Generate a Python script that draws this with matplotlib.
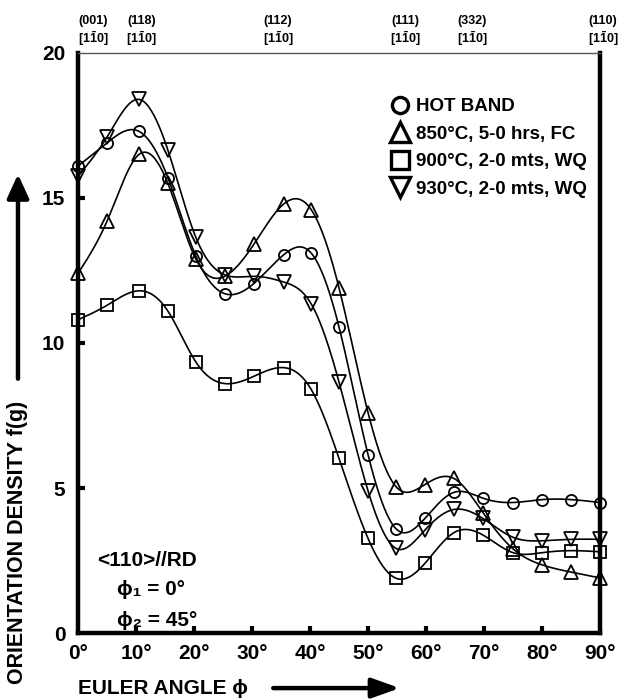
import numpy as np
import matplotlib
matplotlib.use("Agg")
import matplotlib.pyplot as plt
from matplotlib.lines import Line2D

plt.rcParams["font.family"] = ["Liberation Sans", "DejaVu Sans"]
plt.rcParams["font.weight"] = "bold"
plt.rcParams["mathtext.fontset"] = "custom"
plt.rcParams["mathtext.rm"] = "Liberation Sans"
plt.rcParams["mathtext.bf"] = "Liberation Sans:bold"

# Euler angle phi (deg) of the measured points
angle = [0, 5, 10.5, 15.5, 20.3, 25.3, 30.3, 35.5, 40.2, 45, 50, 54.8, 59.8, 64.8, 69.8, 75, 80, 85, 90]

hot_band = [16.1, 16.9, 17.3, 15.7, 13.0, 11.7, 12.05, 13.05, 13.1, 10.55, 6.15, 3.6, 3.95, 4.85, 4.65, 4.5, 4.6, 4.6, 4.5]
fc_850 = [12.4, 14.2, 16.5, 15.5, 12.9, 12.3, 13.4, 14.8, 14.6, 11.9, 7.6, 5.05, 5.12, 5.33, 4.15, 2.9, 2.35, 2.1, 1.9]
wq_900 = [10.8, 11.3, 11.8, 11.1, 9.35, 8.6, 8.85, 9.15, 8.4, 6.02, 3.26, 1.89, 2.4, 3.46, 3.38, 2.77, 2.77, 2.84, 2.8]
wq_930 = [15.75, 17.1, 18.4, 16.65, 13.65, 12.35, 12.3, 12.1, 11.35, 8.65, 4.9, 2.92, 3.55, 4.26, 3.95, 3.3, 3.18, 3.23, 3.23]

series = [
    ("HOT BAND", hot_band, "o", 8),
    ("850°C, 5-0 hrs, FC", fc_850, "^", 10),
    ("900°C, 2-0 mts, WQ", wq_900, "s", 9),
    ("930°C, 2-0 mts, WQ", wq_930, "v", 10),
]

x_ticks = [0, 10, 20, 30, 40, 50, 60, 70, 80, 90]
y_ticks = [0, 5, 10, 15, 20]

top_labels = ["(001)", "(118)", "(112)", "(111)", "(332)", "(110)"]
top_pos = [2.6, 10.9, 34.5, 56.4, 68.0, 90.5]


def spline(x, y, n=400):
    # natural cubic spline through the points, only used to draw the smooth line
    x = np.asarray(x, float)
    y = np.asarray(y, float)
    h = np.diff(x)
    m = len(x)
    A = np.zeros((m, m))
    b = np.zeros(m)
    A[0, 0] = A[-1, -1] = 1
    for i in range(1, m - 1):
        A[i, i - 1] = h[i - 1]
        A[i, i] = 2 * (h[i - 1] + h[i])
        A[i, i + 1] = h[i]
        b[i] = 6 * ((y[i + 1] - y[i]) / h[i] - (y[i] - y[i - 1]) / h[i - 1])
    M = np.linalg.solve(A, b)
    xs = np.linspace(x[0], x[-1], n)
    k = np.clip(np.searchsorted(x, xs) - 1, 0, m - 2)
    t0 = x[k + 1] - xs
    t1 = xs - x[k]
    hk = h[k]
    ys = (M[k] * t0 ** 3 + M[k + 1] * t1 ** 3) / (6 * hk) \
        + (y[k] / hk - M[k] * hk / 6) * t0 + (y[k + 1] / hk - M[k + 1] * hk / 6) * t1
    return xs, ys


fig = plt.figure(figsize=(6.29, 7.0), dpi=100)
ax = fig.add_axes([0.124, 0.0957, 0.830, 0.8286])

for label, vals, mk, ms in series:
    xs, ys = spline(angle, vals)
    ax.plot(xs, ys, color="black", lw=1.2, clip_on=False)
    ax.plot(angle, vals, ls="none", marker=mk, ms=ms, mfc="none", mec="black", mew=1.3, clip_on=False)

ax.set_xlim(0, 90)
ax.set_ylim(0, 20)
ax.set_xticks(x_ticks)
ax.set_xticklabels([f"{v}°" for v in x_ticks], fontsize=15, fontweight="bold")
ax.set_yticks(y_ticks)
ax.set_yticklabels([str(v) for v in y_ticks], fontsize=15, fontweight="bold")
ax.tick_params(axis="both", direction="in", length=5, width=3, color="black")
ax.tick_params(axis="x", pad=8)
ax.tick_params(axis="y", pad=9)
for t in ax.xaxis.get_major_ticks():
    if t.get_loc() in (0, 90):
        t.tick1line.set_visible(False)
for t in ax.yaxis.get_major_ticks():
    if t.get_loc() in (0, 20):
        t.tick1line.set_visible(False)

for side in ("left", "bottom", "right"):
    ax.spines[side].set_linewidth(3.2)
ax.spines["top"].set_linewidth(1.0)
ax.spines["top"].set_color("#555555")

for lab, px in zip(top_labels, top_pos):
    ax.text(px, 1.055, lab, transform=ax.get_xaxis_transform(), ha="center", va="center",
            fontsize=9, fontweight="bold")
    ax.text(px, 1.025, r"$\mathbf{[1\bar{1}0]}$", transform=ax.get_xaxis_transform(),
            ha="center", va="center", fontsize=9)

handles = [Line2D([], [], ls="none", marker=mk, ms=ms * 1.45, mfc="none", mec="black", mew=2.4)
           for _, _, mk, ms in series]
ax.legend(handles, [s[0] for s in series], loc="upper left", bbox_to_anchor=(0.585, 0.935),
          frameon=False, handlelength=1.0, handletextpad=0.35, labelspacing=0.55,
          borderaxespad=0, prop={"size": 13.5, "weight": "bold"})

ax.text(0.037, 0.125, "<110>//RD", transform=ax.transAxes, fontsize=15, fontweight="bold", va="center")
ax.text(0.075, 0.075, "ϕ₁ = 0°", transform=ax.transAxes, fontsize=15, fontweight="bold", va="center")
ax.text(0.075, 0.022, "ϕ₂ = 45°", transform=ax.transAxes, fontsize=15, fontweight="bold", va="center")

fig.text(0.0286, 0.225, "ORIENTATION DENSITY f(g)", rotation=90, ha="center", va="center",
         fontsize=15.5, fontweight="bold")
fig.text(0.124, 0.017, "EULER ANGLE ϕ", ha="left", va="center", fontsize=15, fontweight="bold")

fig.patches.append(plt.matplotlib.patches.FancyArrowPatch(
    (0.0286, 0.455), (0.0286, 0.755), transform=fig.transFigure,
    arrowstyle="-|>,head_length=1.2,head_width=0.55", mutation_scale=12, lw=3.2, color="black"))
fig.patches.append(plt.matplotlib.patches.FancyArrowPatch(
    (0.43, 0.017), (0.64, 0.017), transform=fig.transFigure,
    arrowstyle="-|>,head_length=1.4,head_width=0.5", mutation_scale=12, lw=3.2, color="black"))

fig.savefig("out.png", dpi=100, facecolor="white")
